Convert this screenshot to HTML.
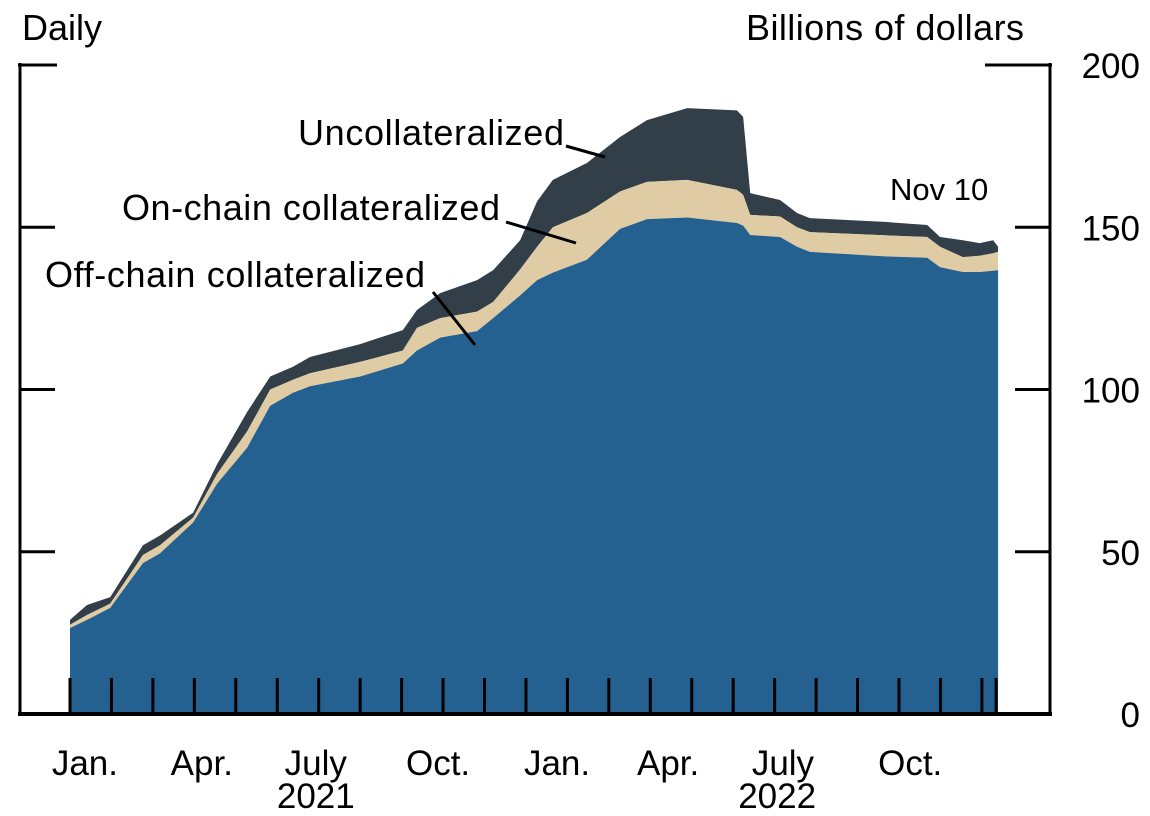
<!DOCTYPE html>
<html><head><meta charset="utf-8"><style>
body{margin:0;background:#fff}
svg{display:block}
text{font-family:"Liberation Sans",sans-serif;fill:#000}
</style></head><body>
<svg id="chart" width="1150" height="816" viewBox="0 0 1150 816" xmlns="http://www.w3.org/2000/svg">
<g id="areas"></g>
<g id="axes"></g>
<text x="22" y="40" font-size="36">Daily</text>
<text x="1024" y="40" font-size="36" text-anchor="end" textLength="278">Billions of dollars</text>
<text x="298" y="145" font-size="36" textLength="266">Uncollateralized</text>
<line x1="566" y1="146" x2="605" y2="157" stroke="#000" stroke-width="3"/>
<text x="122" y="220" font-size="36" textLength="378">On-chain collateralized</text>
<line x1="506" y1="222" x2="576" y2="243" stroke="#000" stroke-width="3"/>
<text x="45" y="287" font-size="36" textLength="380">Off-chain collateralized</text>
<line x1="433" y1="292" x2="475" y2="345" stroke="#000" stroke-width="3"/>
<text x="890" y="200" font-size="31">Nov 10</text>
</svg>
<script>
const months = [0,0.41,0.97,1.76,2.17,2.97,3.55,4.27,4.83,5.38,5.79,7.0,8.03,8.37,8.93,9.82,10.21,10.86,11.27,11.65,12.47,13.27,13.92,14.89,16.09,16.24,16.41,17.13,17.54,17.85,19.71,20.68,20.99,21.54,21.95,22.27,22.39];
const offChain = [26.5,29,32.7,46.5,49.5,59,71,82,95,99,101,104,108,112,116,118,122,129,133.7,136,140,149.5,152.5,153,151.3,150.5,147.6,147,144,142.4,141,140.6,137.7,136.2,136.2,136.6,136.8];
const onChainTop = [27.5,30.5,34,49,52,60.5,74,87,100,103,105,108.5,112,119,122,124,127,137,144,150,154.4,161,164,164.6,161.5,160,153.8,153.3,150,148.5,147.5,147,144,140.8,141.2,142,142.4];
const totalTop = [29,33.6,36,52,55,62,77,93,104,107,110,114,118.3,124.5,129.7,133.7,136.8,146,158,164.6,169.8,177.8,183,186.7,186,184,160.5,158.4,154.4,152.8,151.6,150.7,147,146,145.1,146,144];
const yTicks = [0,50,100,150,200];
const xLabels = [["Jan.",0.36],["Apr.",3.18],["July",5.93],["Oct.",8.88],["Jan.",11.75],["Apr.",14.43],["July",17.2],["Oct.",20.27]];
const yearLabels = [["2021",5.93],["2022",17.06]];
const nTicks = 23;
const endMonth = 22.39;

const X0=70, PX=41.45, Y0=714, PY=3.245;
const xs=m=>X0+m*PX, ys=v=>Y0-v*PY;
const NS="http://www.w3.org/2000/svg";
const areas=document.getElementById('areas'), axes=document.getElementById('axes');
function band(lo,hi,color,name){
  let d="M"+months.map((m,i)=>xs(m)+","+ys(hi[i])).join("L");
  for(let i=months.length-1;i>=0;i--) d+="L"+xs(months[i])+","+(lo?ys(lo[i]):Y0);
  const p=document.createElementNS(NS,'path');
  p.setAttribute('d',d+"Z");p.setAttribute('fill',color);
  
  
  areas.appendChild(p);
}
band(onChainTop,totalTop,"#323e48","area-uncollateralized");
band(offChain,onChainTop,"#dfcca4","area-on-chain");
band(null,offChain,"#246190","area-off-chain");
function ln(x1,y1,x2,y2,w,name){
  const l=document.createElementNS(NS,'line');
  l.setAttribute('x1',x1);l.setAttribute('y1',y1);l.setAttribute('x2',x2);l.setAttribute('y2',y2);
  l.setAttribute('stroke','#000');l.setAttribute('stroke-width',w);
  
  
  axes.appendChild(l);
}
function tx(s,x,y,anchor,size,name){
  const t=document.createElementNS(NS,'text');
  t.setAttribute('x',x);t.setAttribute('y',y);t.setAttribute('font-size',size);t.setAttribute('text-anchor',anchor);
  t.textContent=s;
  
  
  axes.appendChild(t);
}
ln(20,63,20,716,3,'left-axis');
ln(1050,63,1050,716,3,'right-axis');
ln(18,714,1052,714,4,'x-axis');
ln(18,65,57,65,3,'top-left-tick');
ln(985,65,1052,65,3,'top-right-tick');
yTicks.forEach(v=>{
  if(v>0&&v<200){ln(20,ys(v),55,ys(v),3,'y-tick-left');ln(1015,ys(v),1050,ys(v),3,'y-tick-right');}
  tx(String(v),1140,ys(v)+13,'end','35','y-tick-label');
});
for(let i=0;i<nTicks;i++) ln(xs(i),678,xs(i),714,3,'x-tick');
ln(xs(endMonth)-2,678,xs(endMonth)-2,714,3,'x-tick-end');
xLabels.forEach(([s,m])=>tx(s,xs(m),775,'middle','35','x-tick-label'));
yearLabels.forEach(([s,m])=>tx(s,xs(m),808,'middle','35','year-label'));
</script>
</body></html>
